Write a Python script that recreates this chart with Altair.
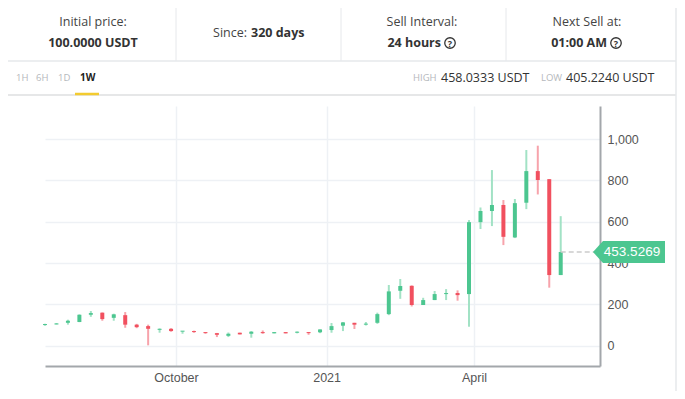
import altair as alt
import pandas as pd

# ---- data (weekly candles) ----
dates = [d.strftime("%Y-%m-%d") for d in pd.date_range("2020-07-13", periods=46, freq="7D")]
opens = [100, 103, 111, 115, 150, 160, 135, 148, 102, 95, 77, 82, 68, 71, 66, 61, 48, 63, 58, 66,
         60, 66, 63, 66, 65, 76, 97, 111, 102, 111, 153, 266, 290, 197, 221, 250, 255, 250, 598, 652,
         681, 524, 692, 845, 806, 342]
closes = [103, 108, 121, 150, 158, 129, 152, 102, 90, 82, 82, 71, 69, 66, 63, 53, 58, 55, 68, 61,
          66, 60, 66, 63, 79, 95, 113, 102, 106, 153, 263, 289, 197, 221, 250, 254, 245, 598, 652, 681,
          527, 690, 845, 802, 342, 453.5269]
highs = [106, 110, 126, 152, 168, 161, 155, 163, 106, 102, 84, 85, 70, 73, 66, 62, 64, 63, 71, 74,
         66, 66, 69, 66, 79, 110, 115, 111, 115, 160, 294, 323, 292, 232, 265, 274, 268, 608, 669, 850,
         705, 710, 947, 968, 806, 627]
lows = [97, 103, 102, 114, 140, 121, 121, 87, 85, 2, 63, 68, 58, 63, 58, 42, 42, 55, 39, 58,
        60, 60, 60, 53, 61, 63, 71, 81, 98, 106, 148, 227, 190, 197, 221, 221, 218, 92, 565, 579,
        487, 521, 661, 732, 281, 342]

y_ticks = [0, 200, 400, 600, 800, 1000]
last_price = "453.5269"

header_labels = ["Initial price:", "Sell Interval:", "Next Sell at:"]
header_values = ["100.0000 USDT", "24 hours", "01:00 AM"]
tabs = ["1H", "6H", "1D", "1W"]

df = pd.DataFrame({"date": dates, "open": opens, "close": closes, "high": highs, "low": lows})
last_df = pd.DataFrame({"date": [dates[-1]], "price": [closes[-1]], "label": [last_price]})

GREEN = "#4cc690"
GREEN_W = "#a2e2c5"
RED = "#f1505f"
RED_W = "#f7a3ab"
AXF = "Liberation Sans"
HF = "Open Sans"

xscale = alt.Scale(type="utc", padding=0,
                   domain=[alt.DateTime(year=2020, month=7, date=13, utc=True),
                           alt.DateTime(year=2021, month=6, date=17, utc=True)])
yscale = alt.Scale(domain=[-98, 1160], nice=False, zero=False, padding=0)

xaxis = alt.Axis(values=[alt.DateTime(year=2020, month=10, date=1, utc=True),
                         alt.DateTime(year=2021, month=1, date=1, utc=True),
                         alt.DateTime(year=2021, month=4, date=1, utc=True)],
                 labelExpr="utcmonth(datum.value) == 0 ? utcFormat(datum.value, '%Y') : utcFormat(datum.value, '%B')",
                 title=None, ticks=False, grid=True, gridColor="#eef1f5", gridWidth=1.5,
                 domainColor="#a3a7ab", domainWidth=2, labelFont=AXF, labelFontSize=12.5,
                 labelColor="#555555", labelPadding=5)
yaxis = alt.Axis(orient="right", values=y_ticks, format=",d", title=None, ticks=False,
                 grid=True, gridColor="#eef1f5", gridWidth=1.5, domainColor="#a3a7ab",
                 domainWidth=2, labelFont=AXF, labelFontSize=12.5, labelColor="#555555",
                 labelPadding=7)

base = alt.Chart(df)
up = "datum.close >= datum.open"

wicks = base.mark_rule(strokeWidth=2).encode(
    x=alt.X("date:T", scale=xscale, axis=xaxis),
    y=alt.Y("low:Q", scale=yscale, axis=yaxis),
    y2="high:Q",
    color=alt.condition(up, alt.value(GREEN_W), alt.value(RED_W)),
)

bodies = base.transform_calculate(
    b0="datum.open",
    b1="abs(datum.close - datum.open) < 5 ? (datum.close >= datum.open ? datum.open + 5 : datum.open - 5) : datum.close",
).mark_bar(width=4).encode(
    x=alt.X("date:T", scale=xscale),
    y=alt.Y("b0:Q", scale=yscale),
    y2="b1:Q",
    color=alt.condition(up, alt.value(GREEN), alt.value(RED)),
)

dash = alt.Chart(last_df).mark_rule(strokeDash=[5, 3], strokeWidth=1.5, color="#cccccc").encode(
    x=alt.X("date:T", scale=xscale), x2=alt.value(555), y=alt.Y("price:Q", scale=yscale))

tag = alt.Chart(last_df).mark_point(
    shape="M0,0 L0.2,-0.22 L1.44,-0.22 L1.44,0.22 L0.2,0.22 Z",
    filled=True, opacity=1, size=10000, color=GREEN, strokeWidth=0,
).encode(x=alt.value(548), y=alt.Y("price:Q", scale=yscale))

tag_text = alt.Chart(last_df).mark_text(font=AXF, fontSize=13.5, color="white", align="center",
                                        baseline="middle").encode(
    x=alt.value(587), y=alt.Y("price:Q", scale=yscale), text="label:N")

# ---- header decorations ----
def rule(x1, x2, y1, y2, color, w=1.0):
    return alt.Chart(pd.DataFrame({"a": [0]})).mark_rule(color=color, strokeWidth=w).encode(
        x=alt.value(x1), x2=alt.value(x2), y=alt.value(y1), y2=alt.value(y2))

def txt(s, x, y, size=12.5, bold=False, color="#333333", align="center", font=HF):
    return alt.Chart(pd.DataFrame({"a": [0]})).mark_text(
        text=s, font=font, fontSize=size, fontWeight="bold" if bold else "normal",
        color=color, align=align, baseline="middle").encode(x=alt.value(x), y=alt.value(y))

def qicon(x, y):
    c = alt.Chart(pd.DataFrame({"a": [0]})).mark_point(
        shape="circle", size=110, filled=False, opacity=1, color="#333333", strokeWidth=1.3
    ).encode(x=alt.value(x), y=alt.value(y))
    q = txt("?", x, y + 0.5, size=9, bold=True)
    return [c, q]

LINE = "#e6e8eb"
deco = [
    rule(131, 131, -98, -45, LINE),
    rule(296, 296, -98, -45, LINE),
    rule(461, 461, -98, -45, LINE),
    rule(-37, 631, -45, -45, LINE, 1.5),
    rule(-37, 631, -11, -11, "#dedfe1", 1.5),
    rule(631, 631, -98, 285, LINE, 1.5),
    rule(30, 54, -12, -12, "#f3cb2f", 2.5),
    txt(header_labels[0], 48, -84, color="#444444"),
    txt(header_values[0], 48, -63, bold=True),
    txt("Since:", 202, -73.5, color="#444444", align="right"),
    txt("320 days", 206, -73.5, bold=True, align="left"),
    txt(header_labels[1], 377, -84, color="#444444"),
    txt(header_values[1], 396, -63, bold=True, align="right"),
    *qicon(405, -63),
    txt(header_labels[2], 542, -84, color="#444444"),
    txt(header_values[2], 562, -63, bold=True, align="right"),
    *qicon(571, -63),
    txt(tabs[0], -29, -28, size=9.5, color="#b5b8bc", align="left"),
    txt(tabs[1], -9, -28, size=9.5, color="#b5b8bc", align="left"),
    txt(tabs[2], 13, -28, size=9.5, color="#b5b8bc", align="left"),
    txt(tabs[3], 35, -28, size=10, bold=True, color="#222222", align="left"),
    txt("HIGH", 368, -28, size=9.5, color="#b5b8bc", align="left"),
    txt("458.0333 USDT", 396, -28, size=12.5, color="#333333", align="left"),
    txt("LOW", 496, -28, size=9.5, color="#b5b8bc", align="left"),
    txt("405.2240 USDT", 521, -28, size=12.5, color="#333333", align="left"),
]

chart = alt.layer(wicks, bodies, dash, tag, tag_text, *deco).properties(
    width=555, height=260,
    autosize=alt.AutoSizeParams(type="none"),
    padding={"left": 37, "top": 98, "right": 77, "bottom": 25},
    background="white",
).configure_view(stroke=None)

chart.save("out.html", embed_options={"renderer": "svg", "actions": False})
